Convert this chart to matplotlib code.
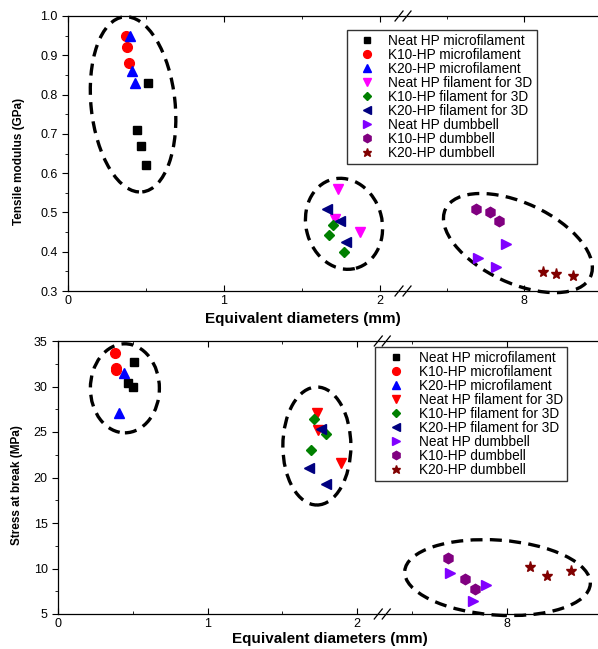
import numpy as np
import matplotlib
matplotlib.use('Agg')
import matplotlib.pyplot as plt
from matplotlib.patches import Ellipse
from matplotlib.transforms import ScaledTranslation

plt.rcParams['font.family'] = ['Liberation Sans', 'DejaVu Sans']

labels = ["Neat HP microfilament", "K10-HP microfilament", "K20-HP microfilament",
          "Neat HP filament for 3D", "K10-HP filament for 3D", "K20-HP filament for 3D",
          "Neat HP dumbbell", "K10-HP dumbbell", "K20-HP dumbbell"]

# tensile modulus (GPa) vs equivalent diameter (mm)
mod_neat_micro_x = [0.51, 0.44, 0.47, 0.50]
mod_neat_micro_y = [0.83, 0.71, 0.67, 0.62]
mod_k10_micro_x = [0.37, 0.38, 0.39]
mod_k10_micro_y = [0.95, 0.92, 0.88]
mod_k20_micro_x = [0.40, 0.41, 0.43]
mod_k20_micro_y = [0.95, 0.86, 0.83]
mod_neat_fil_x = [1.73, 1.71, 1.87]
mod_neat_fil_y = [0.56, 0.483, 0.45]
mod_k10_fil_x = [1.70, 1.67, 1.77]
mod_k10_fil_y = [0.467, 0.443, 0.40]
mod_k20_fil_x = [1.66, 1.74, 1.78]
mod_k20_fil_y = [0.51, 0.479, 0.425]
mod_neat_db_x = [7.88, 7.70, 7.82]
mod_neat_db_y = [0.42, 0.383, 0.362]
mod_k10_db_x = [7.69, 7.78, 7.84]
mod_k10_db_y = [0.51, 0.50, 0.479]
mod_k20_db_x = [8.12, 8.21, 8.32]
mod_k20_db_y = [0.349, 0.344, 0.339]

# stress at break (MPa) vs equivalent diameter (mm)
str_neat_micro_x = [0.51, 0.47, 0.50]
str_neat_micro_y = [32.7, 30.4, 30.0]
str_k10_micro_x = [0.38, 0.39, 0.39]
str_k10_micro_y = [33.65, 32.0, 31.8]
str_k20_micro_x = [0.44, 0.41]
str_k20_micro_y = [31.5, 27.1]
str_neat_fil_x = [1.73, 1.74, 1.89]
str_neat_fil_y = [27.1, 25.2, 21.6]
str_k10_fil_x = [1.71, 1.79, 1.69]
str_k10_fil_y = [26.4, 24.75, 23.0]
str_k20_fil_x = [1.76, 1.68, 1.79]
str_k20_fil_y = [25.3, 21.0, 19.25]
str_neat_db_x = [7.70, 7.89, 7.82]
str_neat_db_y = [9.47, 8.15, 6.43]
str_k10_db_x = [7.69, 7.78, 7.83]
str_k10_db_y = [11.1, 8.9, 7.75]
str_k20_db_x = [8.12, 8.21, 8.34]
str_k20_db_y = [10.13, 9.18, 9.73]

markers = ['s', 'o', '^', 'v', 'D', '<', '>', 'h', '*']
msizes = [6, 7, 7.5, 7.5, 5.5, 7.5, 7.5, 7.5, 8]
colors_top = ['black', 'red', 'blue', 'magenta', 'green', 'navy', '#8000ff', 'purple', '#800000']
colors_bot = ['black', 'red', 'blue', 'red', 'green', 'navy', '#8000ff', 'purple', '#800000']


def broken(b, s, k):
    def fwd(x):
        x = np.asarray(x, float)
        return np.where(x <= b, x, np.where(x < s, b, b + (x - s) * k))

    def inv(y):
        y = np.asarray(y, float)
        return np.where(y <= b, y, s + (y - b) / k)
    return fwd, inv


def panel(fig, ax, xs, ys, colors, brk, ylim, yticks, yminor, ylabel, ellipses,
          leg_anchor, leg_fs, leg_pads, ylab_pos, xlab_pos):
    b, s, k = brk
    ax.set_xscale('function', functions=broken(b, s, k))
    for i in range(len(labels)):
        ax.plot(xs[i], ys[i], ls='none', marker=markers[i], ms=msizes[i],
                color=colors[i], mec=colors[i], label=labels[i])
    for cx, cy, w, h, ang in ellipses:
        tr = fig.dpi_scale_trans + ScaledTranslation(cx, cy, ax.transData)
        e = Ellipse((0, 0), w / 100, h / 100, angle=ang, fill=False, ec='black',
                    lw=2.4, ls=(0, (3.6, 2.2)), transform=tr, clip_on=False)
        ax.add_patch(e)
    ax.set_xlim(0, 8.48)
    ax.set_ylim(*ylim)
    ax.set_xticks([0, 1, 2, 8])
    ax.set_xticklabels(['0', '1', '2', '8'])
    ax.set_xticks([0.5, 1.5, 7.5], minor=True)
    ax.set_yticks(yticks)
    ax.set_yticks(yminor, minor=True)
    ax.tick_params(axis='x', which='both', direction='in', top=True, labelsize=9, pad=3)
    ax.tick_params(axis='x', which='major', length=4)
    ax.tick_params(axis='x', which='minor', length=2)
    ax.tick_params(axis='y', which='both', direction='out', labelsize=9)
    ax.tick_params(axis='y', which='major', length=4)
    ax.tick_params(axis='y', which='minor', length=2)
    ax.spines['right'].set_visible(False)
    for sp in ax.spines.values():
        sp.set_linewidth(0.9)
    ax.set_ylabel(ylabel, fontsize=8.5, fontweight='bold')
    ax.yaxis.set_label_coords(*ylab_pos)
    ax.set_xlabel('Equivalent diameters (mm)', fontsize=11, fontweight='bold')
    ax.xaxis.set_label_coords(*xlab_pos)
    # break marks on bottom and top spines
    for yy in (0, 1):
        tr = fig.dpi_scale_trans + ScaledTranslation(b, yy, ax.get_xaxis_transform())
        for dx in (-0.08, 0.0):
            ax.plot([dx, dx + 0.08], [-0.05, 0.05], color='black', lw=0.9,
                    transform=tr, clip_on=False)
    hl, htp, lsp = leg_pads
    leg = ax.legend(loc='upper left', bbox_to_anchor=leg_anchor, borderaxespad=0,
                    fontsize=leg_fs, frameon=True, fancybox=False, edgecolor='black',
                    numpoints=1, handlelength=hl, handletextpad=htp,
                    labelspacing=lsp, borderpad=0.3, markerscale=0.8)
    leg.get_frame().set_linewidth(1.0)


fig = plt.figure(figsize=(5.98, 6.49), dpi=100)
ax1 = fig.add_axes([68 / 598, 1 - 291 / 649, 530 / 598, 275 / 649])
ax2 = fig.add_axes([58 / 598, 1 - 614 / 649, 540 / 598, 273 / 649])

xs_top = [mod_neat_micro_x, mod_k10_micro_x, mod_k20_micro_x, mod_neat_fil_x,
          mod_k10_fil_x, mod_k20_fil_x, mod_neat_db_x, mod_k10_db_x, mod_k20_db_x]
ys_top = [mod_neat_micro_y, mod_k10_micro_y, mod_k20_micro_y, mod_neat_fil_y,
          mod_k10_fil_y, mod_k20_fil_y, mod_neat_db_y, mod_k10_db_y, mod_k20_db_y]
xs_bot = [str_neat_micro_x, str_k10_micro_x, str_k20_micro_x, str_neat_fil_x,
          str_k10_fil_x, str_k20_fil_x, str_neat_db_x, str_k10_db_x, str_k20_db_x]
ys_bot = [str_neat_micro_y, str_k10_micro_y, str_k20_micro_y, str_neat_fil_y,
          str_k10_fil_y, str_k20_fil_y, str_neat_db_y, str_k10_db_y, str_k20_db_y]

panel(fig, ax1, xs_top, ys_top, colors_top, (2.147, 7.214, 0.987),
      (0.3, 1.0), np.arange(0.3, 1.01, 0.1), np.arange(0.35, 1.0, 0.1),
      'Tensile modulus (GPa)',
      [(0.417, 0.775, 84, 176, 6), (1.769, 0.471, 76, 92, 15), (7.96, 0.422, 160, 80, -25)],
      (0.526, 0.949), 9.8, (2.4, 0.35, 0.0), (-0.081, 0.47), (0.443, -0.075))

panel(fig, ax2, xs_bot, ys_bot, colors_bot, (2.167, 7.342, 1.267),
      (5, 35), np.arange(5, 36, 5), np.arange(7.5, 35, 5),
      'Stress at break (MPa)',
      [(0.447, 29.8, 69, 89, 0), (1.73, 23.46, 68, 118, 0), (7.95, 9.0, 186, 75, -4)],
      (0.587, 0.979), 9.8, (2.55, 0.4, 0.0), (-0.065, 0.473), (0.504, -0.066))

fig.savefig('out.png', dpi=100)
